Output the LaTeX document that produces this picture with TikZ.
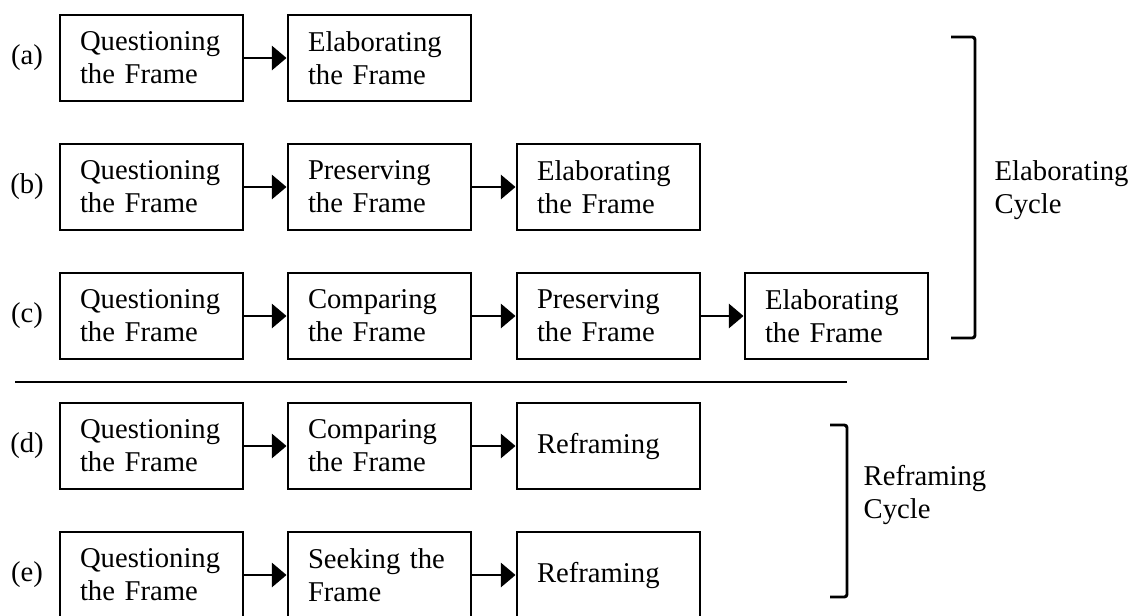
\documentclass[tikz,border=0pt]{standalone}
\usepackage{fontspec}
\setmainfont{Liberation Serif}
\usetikzlibrary{arrows.meta}
\begin{document}
\begin{tikzpicture}[x=0.75pt,y=-0.75pt,
  every node/.style={font=\fontsize{21.5}{24.75}\selectfont},
  framebox/.style={draw, line width=2.2pt, minimum width=183*0.75pt, minimum height=86*0.75pt,
    text width=143*0.75pt, align=left, inner xsep=20*0.75pt, inner ysep=0pt},
  arr/.style={line width=2.2pt, -{Triangle[length=11pt,width=18pt]}},
  brk/.style={line width=2.2pt, rounded corners=2pt},
  rowlab/.style={anchor=center},
  cyc/.style={align=left, anchor=west}]
\useasboundingbox (0,0) rectangle (1139,615);
% row a
\node[rowlab] (la) at (27,58) {(a)};
\node[framebox] (a1) at (151.5,58) {Questioning\\the Frame};
\node[framebox] (a2) at (379.5,58) {Elaborating\\the Frame};
\draw[arr] (a1.east) -- (a2.west);
% row b
\node[rowlab] (lb) at (27,187) {(b)};
\node[framebox] (b1) at (151.5,187) {Questioning\\the Frame};
\node[framebox] (b2) at (379.5,187) {Preserving\\the Frame};
\node[framebox] (b3) at (608.5,187) {Elaborating\\the Frame};
\draw[arr] (b1.east) -- (b2.west);
\draw[arr] (b2.east) -- (b3.west);
% row c
\node[rowlab] (lc) at (27,316) {(c)};
\node[framebox] (c1) at (151.5,316) {Questioning\\the Frame};
\node[framebox] (c2) at (379.5,316) {Comparing\\the Frame};
\node[framebox] (c3) at (608.5,316) {Preserving\\the Frame};
\node[framebox] (c4) at (836.5,316) {Elaborating\\the Frame};
\draw[arr] (c1.east) -- (c2.west);
\draw[arr] (c2.east) -- (c3.west);
\draw[arr] (c3.east) -- (c4.west);
% separator
\coordinate (s1) at (15,382);
\coordinate (s2) at (847,382);
\draw[line width=2.2pt] (s1) -- (s2);
% row d
\node[rowlab] (ld) at (27,446) {(d)};
\node[framebox] (d1) at (151.5,446) {Questioning\\the Frame};
\node[framebox] (d2) at (379.5,446) {Comparing\\the Frame};
\node[framebox] (d3) at (608.5,446) {Reframing};
\draw[arr] (d1.east) -- (d2.west);
\draw[arr] (d2.east) -- (d3.west);
% row e
\node[rowlab] (le) at (27,575) {(e)};
\node[framebox] (e1) at (151.5,575) {Questioning\\the Frame};
\node[framebox] (e2) at (379.5,575) {Seeking the\\Frame};
\node[framebox] (e3) at (608.5,575) {Reframing};
\draw[arr] (e1.east) -- (e2.west);
\draw[arr] (e2.east) -- (e3.west);
% brackets
\coordinate (eb1) at (951,37);
\coordinate (eb2) at (975,37);
\coordinate (eb3) at (975,338);
\coordinate (eb4) at (951,338);
\draw[brk] (eb1) -- (eb2) -- (eb3) -- (eb4);
\node[cyc] (ec) at (990,190) {Elaborating\\Cycle};
\coordinate (rb1) at (830,425);
\coordinate (rb2) at (847,425);
\coordinate (rb3) at (847,597);
\coordinate (rb4) at (830,597);
\draw[brk] (rb1) -- (rb2) -- (rb3) -- (rb4);
\node[cyc] (rc) at (859,495) {Reframing\\Cycle};
\end{tikzpicture}
\end{document}
